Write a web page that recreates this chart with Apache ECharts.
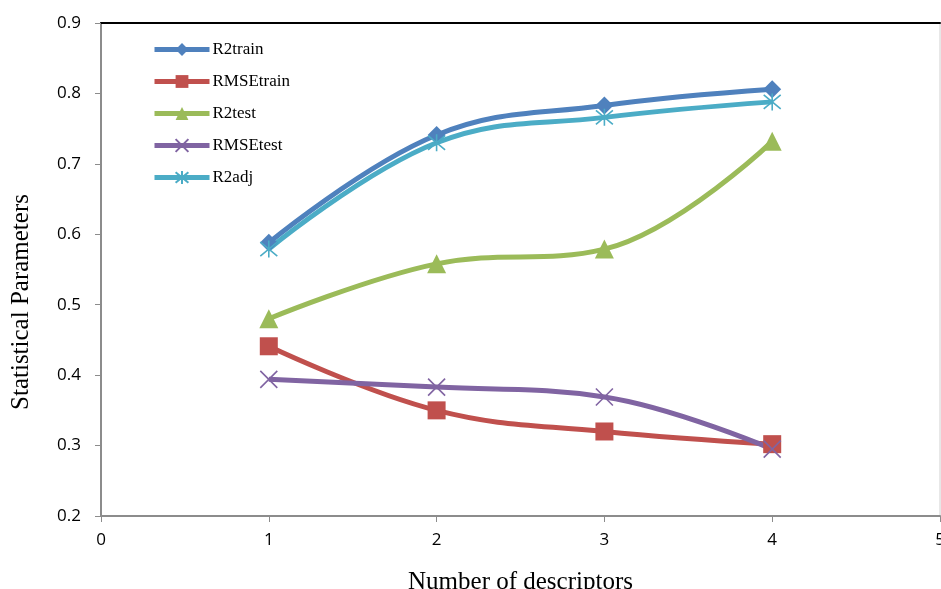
<!DOCTYPE html>
<html><head><meta charset="utf-8">
<script src="https://cdn.jsdelivr.net/npm/echarts@6/dist/echarts.min.js"></script>
<style>html,body{margin:0;padding:0;background:#fff}#c{width:941px;height:589px}</style>
</head><body><div id="c"></div>
<script>
var xValues = [1, 2, 3, 4];
var r2train = [0.588, 0.741, 0.783, 0.806];
var rmseTrain = [0.441, 0.350, 0.320, 0.302];
var r2test = [0.480, 0.558, 0.579, 0.732];
var rmseTest = [0.394, 0.383, 0.369, 0.295];
var r2adj = [0.579, 0.730, 0.766, 0.788];
var seriesNames = ['R2train', 'RMSEtrain', 'R2test', 'RMSEtest', 'R2adj'];

function pairs(v){ return xValues.map(function(x,i){ return [x, v[i]]; }); }
var xPath = 'path://M0,0L10,10M10,0L0,10';
var starPath = 'path://M0,0L10,10M10,0L0,10M5,-1L5,11';

var chart = echarts.init(document.getElementById('c'));
function mk(name, data, color, symbol, size, stroke){
  var s = {
    name: name, type: 'line', data: pairs(data), smooth: 0.4,
    symbol: symbol, symbolSize: size,
    lineStyle: {color: color, width: 5},
    itemStyle: {color: color}
  };
  if (stroke) {
    s.itemStyle = {color: 'rgba(0,0,0,0)', borderColor: color, borderWidth: 1.6};
  }
  return s;
}
chart.setOption({
  animation: false,
  grid: {left: 101, top: 23, right: 1, bottom: 73, show: true, borderColor: '#d0d0d0', borderWidth: 1, outerBoundsMode: 'none', containLabel: false},
  legend: {
    orient: 'vertical', left: 147, top: 36, itemWidth: 55, itemHeight: 16, itemGap: 15,
    data: seriesNames,
    lineStyle: {width: 5},
    textStyle: {fontFamily: 'Liberation Serif', fontSize: 17, color: '#000', padding: [0,0,0,-2]}
  },
  graphic: [{
    type: 'text', rotation: Math.PI / 2,
    x: 21, y: 302,
    style: {text: 'Statistical Parameters', font: '25px "Liberation Serif"', fill: '#000', align: 'center', verticalAlign: 'middle'}
  }],
  xAxis: [{
    type: 'value', min: 0, max: 5, interval: 1, position: 'bottom',
    name: 'Number of descriptors', nameLocation: 'middle', nameGap: 54,
    nameTextStyle: {fontFamily: 'Liberation Serif', fontSize: 25, color: '#000'},
    axisLine: {lineStyle: {color: '#8c8c8c', width: 2}},
    axisTick: {show: true, length: 6, lineStyle: {color: '#8c8c8c'}},
    axisLabel: {fontFamily: 'Open Sans', fontSize: 17, color: '#000', margin: 16},
    splitLine: {show: false}
  }, {
    type: 'value', min: 0, max: 5, position: 'top',
    axisLine: {show: true, lineStyle: {color: '#000', width: 2}},
    axisTick: {show: false}, axisLabel: {show: false}, splitLine: {show: false}
  }],
  yAxis: {
    type: 'value', min: 0.2, max: 0.9, interval: 0.1,
    axisLine: {show: true, lineStyle: {color: '#8c8c8c', width: 2}},
    axisTick: {show: true, length: 6, lineStyle: {color: '#8c8c8c'}},
    axisLabel: {fontFamily: 'Open Sans', fontSize: 17, color: '#000', margin: 20,
      formatter: function(v){ return v.toFixed(1); }},
    splitLine: {show: false}
  },
  series: [
    mk('R2train', r2train, '#4F81BD', 'diamond', 18),
    mk('RMSEtrain', rmseTrain, '#C0504D', 'rect', 18),
    mk('R2test', r2test, '#9BBB59', 'triangle', 19),
    mk('RMSEtest', rmseTest, '#8064A2', xPath, 17, true),
    mk('R2adj', r2adj, '#4BACC6', starPath, 17, true)
  ]
});
</script></body></html>
